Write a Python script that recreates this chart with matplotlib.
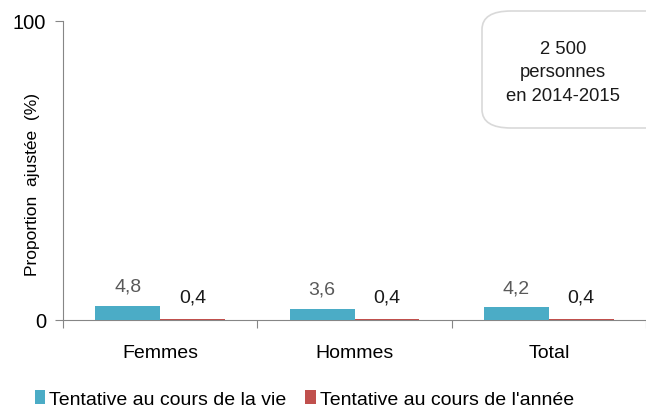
import matplotlib.pyplot as plt
from matplotlib.patches import FancyBboxPatch
import numpy as np

plt.rcParams['font.family'] = ['Liberation Sans', 'DejaVu Sans']

categories = ['Femmes', 'Hommes', 'Total']
vie = [4.8, 3.6, 4.2]
annee = [0.4, 0.4, 0.4]
vie_labels = ['4,8', '3,6', '4,2']
annee_labels = ['0,4', '0,4', '0,4']

blue = '#4BACC6'
red = '#C0504D'

fig = plt.figure(figsize=(6.46, 4.10), dpi=100)
ax = fig.add_axes([63/646, 1 - 321/410, (646 - 63)/646, (321 - 22)/410])

x = np.arange(len(categories))
w = 1/3
b1 = ax.bar(x - w/2, vie, w, color=blue, label='Tentative au cours de la vie', zorder=3)
b2 = ax.bar(x + w/2, annee, w, color=red, label="Tentative au cours de l'année", zorder=3)

for xi, v, t in zip(x, vie, vie_labels):
    ax.text(xi - w/2, v + 3.8, t, ha='center', va='bottom', fontsize=14, color='#595959')
for xi, v, t in zip(x, annee, annee_labels):
    ax.text(xi + w/2, v + 4.5, t, ha='center', va='bottom', fontsize=14, color='#1a1a1a')

ax.set_xlim(-0.5, 2.44)
ax.set_ylim(0, 100)
ax.set_yticks([0, 100])
ax.set_yticklabels(['0', '100'], fontsize=14.5)
ax.set_xticks([-0.5, 0.5, 1.5, 2.5])
ax.set_xticklabels([])
ax.set_xticks(x, minor=True)
ax.set_xticklabels(categories, minor=True, fontsize=14)
ax.tick_params(axis='x', which='minor', length=0, pad=17)
ax.tick_params(axis='x', which='major', length=6, color='#868686', direction='out')
ax.tick_params(axis='y', length=6, color='#868686', direction='out', pad=6)
for s in ['top', 'right']:
    ax.spines[s].set_visible(False)
ax.spines['left'].set_color('#868686')
ax.spines['bottom'].set_color('#868686')

fig.text(33/646, 1 - 185/410, 'Proportion  ajustée  (%)', rotation=90,
         ha='center', va='center', fontsize=12.5)

box = FancyBboxPatch((482/646, 1 - 129/410), 200/646, 117/410,
                     boxstyle='round,pad=0,rounding_size=0.045',
                     transform=fig.transFigure, facecolor='white',
                     edgecolor='#d9d9d9', linewidth=1.2, clip_on=False)
fig.patches.append(box)
fig.text(563/646, 1 - 73/410, '2 500\npersonnes\nen 2014-2015', ha='center', va='center',
         fontsize=13.3, linespacing=1.5, color='#1a1a1a')

fig.legend(handles=[b1, b2], loc='center left', bbox_to_anchor=(27/646, 1 - 400/410), ncol=2,
           frameon=False, fontsize=14, handlelength=0.55, handleheight=0.75,
           handletextpad=0.2, columnspacing=0.95, borderaxespad=0)

fig.savefig('out.png', dpi=100)
